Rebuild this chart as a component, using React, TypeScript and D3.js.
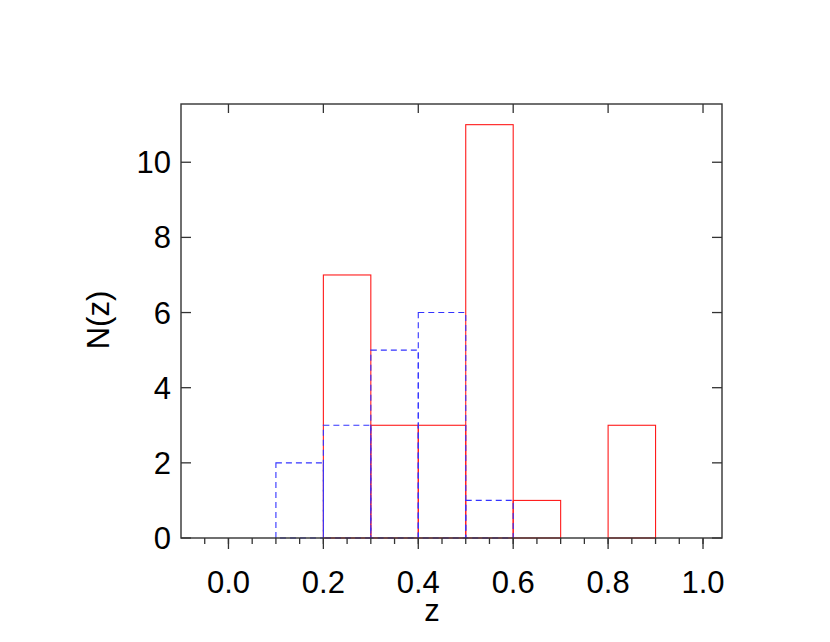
import React from "react";
import * as d3 from "d3";

const binEdgesRed = [0.0, 0.1, 0.2, 0.3, 0.4, 0.5, 0.6, 0.7, 0.8];
const countsRed = [0, 0, 7, 3, 3, 11, 1, 0, 3];
const binEdgesBlue = [0.0, 0.1, 0.2, 0.3, 0.4, 0.5];
const countsBlue = [0, 2, 3, 5, 6, 1];
const binWidth = 0.1;
const xMajorTicks = [0.0, 0.2, 0.4, 0.6, 0.8, 1.0];
const xTickLabels = ["0.0", "0.2", "0.4", "0.6", "0.8", "1.0"];
const yMajorTicks = [0, 2, 4, 6, 8, 10];
const xDomain: [number, number] = [-0.1, 1.04];
const yDomain: [number, number] = [0, 11.55];

const W = 830, H = 642;
const L = 181, R = 722, T = 104, B = 538;

export default function App() {
  const x = d3.scaleLinear().domain(xDomain).range([L, R]);
  const y = d3.scaleLinear().domain(yDomain).range([B, T]);
  const minor = d3.range(-0.1, 1.04, 0.05).filter(v => v > -0.099);
  const axisColor = "#333";
  const font = "'Liberation Sans', Arial, Helvetica, sans-serif";
  const fs = 31;
  const bars = (edges: number[], counts: number[], color: string, dash?: string) =>
    edges.map((e, i) => (
      <rect key={i} x={x(e)} y={y(counts[i])} width={x(e + binWidth) - x(e)}
        height={y(0) - y(counts[i])} fill="none" stroke={color} strokeWidth={1.1}
        strokeDasharray={dash} />
    ));
  return (
    <svg width={W} height={H} style={{ position: "absolute", left: 0, top: 0, background: "#fff" }}>
      <rect x={0} y={0} width={W} height={H} fill="#fff" />
      {bars(binEdgesRed, countsRed, "#ff1a1a")}
      {bars(binEdgesBlue, countsBlue, "#3333ff", "6,4")}
      <rect x={L} y={T} width={R - L} height={B - T} fill="none" stroke={axisColor} strokeWidth={1.4} />
      {minor.map((v, i) => (
        <line key={"mi" + i} x1={x(v)} x2={x(v)} y1={B} y2={B + 6} stroke={axisColor} strokeWidth={1.3} />
      ))}
      {xMajorTicks.map((v, i) => (
        <g key={"xm" + i}>
          <line x1={x(v)} x2={x(v)} y1={B} y2={B + 11} stroke={axisColor} strokeWidth={1.3} />
          <line x1={x(v)} x2={x(v)} y1={T} y2={T + 9} stroke={axisColor} strokeWidth={1.3} />
          <text x={x(v)} y={593} textAnchor="middle" fontFamily={font} fontSize={fs} fill="#000">{xTickLabels[i]}</text>
        </g>
      ))}
      {yMajorTicks.map((v, i) => (
        <g key={"ym" + i}>
          <line x1={L} x2={L + 10} y1={y(v)} y2={y(v)} stroke={axisColor} strokeWidth={1.3} />
          <line x1={R} x2={R - 10} y1={y(v)} y2={y(v)} stroke={axisColor} strokeWidth={1.3} />
          <text x={171} y={y(v) + 11} textAnchor="end" fontFamily={font} fontSize={fs} fill="#000">{v}</text>
        </g>
      ))}
      <text x={432} y={621} textAnchor="middle" fontFamily={font} fontSize={fs} fill="#000">z</text>
      <text transform={`translate(109,${320}) rotate(-90)`} textAnchor="middle" fontFamily={font} fontSize={fs} fill="#000">N(z)</text>
    </svg>
  );
}
